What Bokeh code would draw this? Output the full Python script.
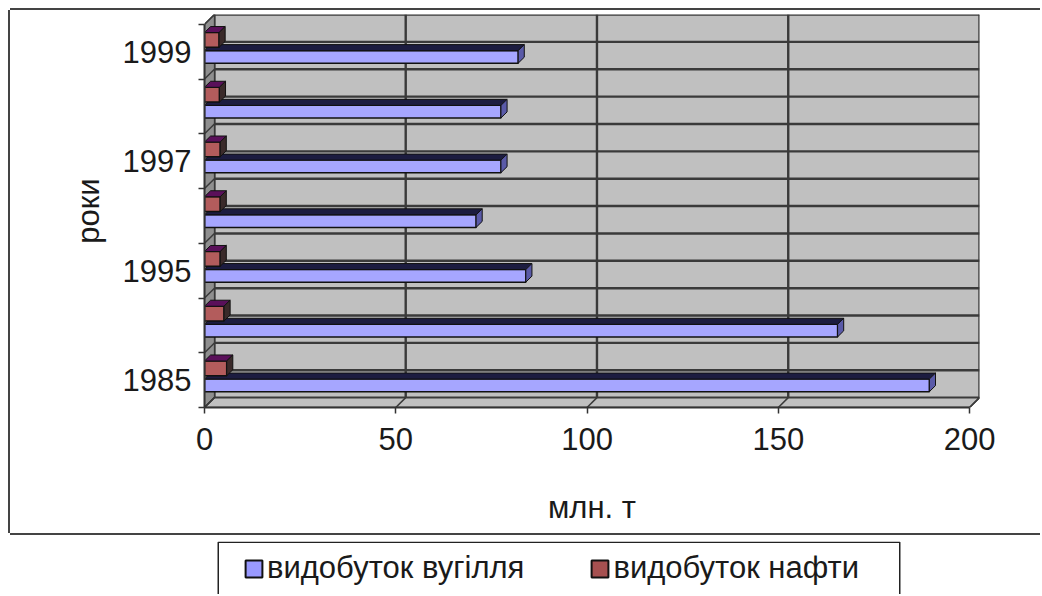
import numpy as np
from bokeh.plotting import figure
from bokeh.layouts import column
from bokeh.models import Range1d, FixedTicker, Legend, LegendItem
from bokeh.embed import file_html
from bokeh.resources import INLINE

# ---------------- data ----------------
years = ["1985", "1990", "1995", "1996", "1997", "1998", "1999"]
coal = [189.5, 165.5, 84.0, 71.0, 77.5, 77.5, 82.0]   # видобуток вугілля, млн. т
oil = [5.8, 5.1, 4.1, 4.1, 4.1, 3.9, 3.8]              # видобуток нафти, млн. т
x_ticks = [0, 50, 100, 150, 200]
shown_years = ["1985", "1995", "1997", "1999"]
series_names = ["видобуток вугілля", "видобуток нафти"]
x_title = "млн. т"
y_title = "роки"

# ---------------- style ----------------
FONT = "Liberation Sans"
FS = "31px"
TXT = "#1a1a1a"
WALL = "#c0c0c0"
SIDE = "#8f8f8f"
GRID = "#3a3a3a"
COAL_F, COAL_T, COAL_S = "#a6a6ff", "#1c1c40", "#5a5aa8"
OIL_F, OIL_T, OIL_S = "#b35c5c", "#5a105a", "#3a2a2a"
DX, DY = 2.6, 0.18      # wall depth (x units, category units)
BDX, BDY = 1.6, 0.11    # bar depth
BL, BR = 194, 61        # left / right borders shared by both stacked figures

n = len(years)
idx = np.arange(n)
x_max = max(x_ticks)
y_lo, y_hi = -0.5, n - 0.5

p = figure(width=1030, height=523, output_backend="svg", toolbar_location=None,
           x_range=Range1d(0, x_max + DX), y_range=Range1d(y_lo, y_hi + DY),
           min_border_left=BL, min_border_right=BR, min_border_top=4,
           min_border_bottom=126)
p.margin = (10, 0, 0, 10)
p.styles = {"box-shadow": "-2px 0 0 0 #444444, 0 -2px 0 0 #444444, 0 2px 0 0 #444444"}
p.outline_line_color = None
p.background_fill_color = "white"
p.border_fill_color = "white"
p.xgrid.visible = False
p.ygrid.visible = False

# ---------------- walls ----------------
p.quad(left=DX, right=x_max + DX, bottom=y_lo + DY, top=y_hi + DY,
       fill_color=WALL, line_color=None)
hy = np.arange(y_lo, y_hi + 0.01, 0.5) + DY
p.segment(x0=DX, x1=x_max + DX, y0=hy, y1=hy, line_color=GRID, line_width=2.4)
vx = np.array(x_ticks, dtype=float) + DX
p.segment(x0=vx, x1=vx, y0=y_lo + DY, y1=y_hi + DY, line_color=GRID, line_width=2.4)
p.patch(x=[0, DX, DX, 0], y=[y_lo, y_lo + DY, y_hi + DY, y_hi],
        fill_color=SIDE, line_color=GRID, line_width=1.2)
by = np.arange(y_lo, y_hi + 0.01, 1.0)
p.segment(x0=0, x1=DX, y0=by, y1=by + DY, line_color=GRID, line_width=1.5)
p.patch(x=[0, x_max, x_max + DX, DX], y=[y_lo, y_lo, y_lo + DY, y_lo + DY],
        fill_color=WALL, line_color=GRID, line_width=1.5)
fx = np.array(x_ticks, dtype=float)
p.segment(x0=fx, x1=fx + DX, y0=y_lo, y1=y_lo + DY, line_color=GRID, line_width=1.5)


# ---------------- 3D-looking bars ----------------
def bars(vals, bot, top, front, topc, side):
    vals = np.asarray(vals, dtype=float)
    r = p.quad(left=0, right=vals, bottom=bot, top=top, fill_color=front,
               line_color="#111111", line_width=1.5)
    p.patches(xs=[[0, v, v + BDX, BDX] for v in vals],
              ys=[[t, t, t + BDY, t + BDY] for t in top],
              fill_color=topc, line_color="#111111", line_width=1)
    p.patches(xs=[[v, v + BDX, v + BDX, v] for v in vals],
              ys=[[b, b + BDY, t + BDY, t] for b, t in zip(bot, top)],
              fill_color=side, line_color="#111111", line_width=1)
    return r


bars(coal, idx - 0.21, idx + 0.02, COAL_F, COAL_T, COAL_S)
bars(oil, idx + 0.08, idx + 0.35, OIL_F, OIL_T, OIL_S)

# ---------------- axes ----------------
ylab_pos = [years.index(y) for y in shown_years]
p.yaxis.ticker = FixedTicker(ticks=ylab_pos, minor_ticks=list(by))
p.yaxis.major_label_overrides = {i: years[i] for i in ylab_pos}
p.yaxis.major_tick_out = 0
p.yaxis.major_tick_in = 0
p.yaxis.minor_tick_out = 6
p.yaxis.minor_tick_in = 0
p.yaxis.major_label_standoff = 7
p.yaxis.axis_label = y_title
p.yaxis.axis_label_standoff = 14
p.yaxis.bounds = (y_lo, y_hi)

p.xaxis.ticker = FixedTicker(ticks=x_ticks, minor_ticks=[])
p.xaxis.major_tick_out = 6
p.xaxis.major_tick_in = 0
p.xaxis.major_label_standoff = 14
p.xaxis.axis_label = x_title
p.xaxis.axis_label_standoff = 37
p.xaxis.bounds = (0, x_max)

for ax in (p.xaxis, p.yaxis):
    ax.axis_line_color = "#333333"
    ax.axis_line_width = 2
    ax.major_tick_line_color = "#333333"
    ax.minor_tick_line_color = "#333333"
    ax.major_tick_line_width = 1.5
    ax.minor_tick_line_width = 1.5
    ax.major_label_text_font = FONT
    ax.major_label_text_font_size = FS
    ax.major_label_text_color = TXT
    ax.axis_label_text_font = FONT
    ax.axis_label_text_font_size = FS
    ax.axis_label_text_font_style = "normal"
    ax.axis_label_text_color = TXT

# ---------------- legend (separate box below the chart) ----------------
PW, LH = 1040, 53
BOX_L, BOX_R = 217, 900          # page x of the legend box
pl = figure(width=PW, height=LH, output_backend="svg", toolbar_location=None,
            x_range=Range1d(BL, PW - BR), y_range=Range1d(0, LH),
            min_border_left=BL, min_border_right=BR, min_border_top=0,
            min_border_bottom=0, x_axis_location=None, y_axis_location=None)
pl.margin = (8, 0, 0, 0)
pl.outline_line_color = None
pl.background_fill_color = "white"
pl.border_fill_color = "white"
pl.grid.visible = False
pl.multi_line(xs=[[BOX_L + 0.75, BOX_L + 0.75, BOX_R - 0.75, BOX_R - 0.75]],
              ys=[[0, LH - 0.75, LH - 0.75, 0]],
              line_color="#222222", line_width=1.5)
# swatch renderers (kept outside the visible range; only their legend glyphs show)
sw_coal = pl.quad(left=[0], right=[10], bottom=[0], top=[10], fill_color="#9999ff",
                  line_color="#111111", line_width=2)
sw_oil = pl.quad(left=[0], right=[10], bottom=[0], top=[10], fill_color="#a65050",
                 line_color="#111111", line_width=2)
legend = Legend(items=[LegendItem(label=series_names[0], renderers=[sw_coal]),
                       LegendItem(label=series_names[1], renderers=[sw_oil])],
                location=(243 - BL, 8), orientation="horizontal",
                border_line_alpha=0, background_fill_alpha=0,
                padding=0, spacing=65, glyph_width=21, glyph_height=21,
                label_standoff=3, label_text_font=FONT, label_text_font_size=FS,
                label_text_color=TXT)
pl.add_layout(legend, "center")

layout = column(p, pl)
open("out.html", "w").write(file_html(layout, INLINE))
